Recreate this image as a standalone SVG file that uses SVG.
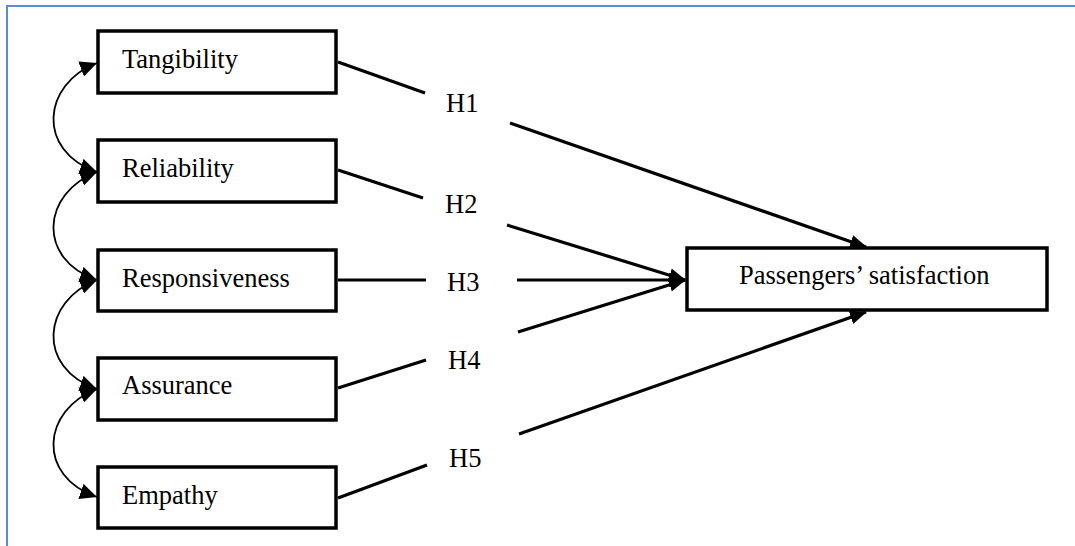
<svg xmlns="http://www.w3.org/2000/svg" width="1075" height="546" viewBox="0 0 1075 546">
<style>
.box{fill:#fff;stroke:#000;stroke-width:3.5}
.lbl{font-family:'Liberation Serif',serif;font-size:26.5px;fill:#000}
.ln{stroke:#000;stroke-width:3.2;fill:none}
.cv{stroke:#000;stroke-width:1.8;fill:none}
</style>
<defs>
<marker id="ah" markerUnits="userSpaceOnUse" markerWidth="18" markerHeight="14" refX="16" refY="7" orient="auto">
<path d="M0,0 L17,7 L0,14 Z" fill="#000"/>
</marker>
<marker id="ch" markerUnits="userSpaceOnUse" markerWidth="18" markerHeight="16" refX="17" refY="8" orient="auto-start-reverse">
<path d="M0,0 L17,8 L0,16 Z" fill="#000"/>
</marker>
</defs>
<rect width="1075" height="546" fill="#fff"/>
<rect x="7" y="6" width="1100" height="600" fill="none" stroke="#5a8ed0" stroke-width="2"/>

<g id="connectors">
<line class="ln" x1="338" y1="62" x2="425" y2="93"/>
<line class="ln" x1="510" y1="123" x2="866" y2="247" marker-end="url(#ah)"/>
<line class="ln" x1="338" y1="170" x2="423" y2="198"/>
<line class="ln" x1="507" y1="225" x2="685" y2="280" marker-end="url(#ah)"/>
<line class="ln" x1="338" y1="280" x2="426" y2="280"/>
<line class="ln" x1="517" y1="280" x2="685" y2="280" marker-end="url(#ah)"/>
<line class="ln" x1="338" y1="388" x2="426" y2="360"/>
<line class="ln" x1="518" y1="332" x2="685" y2="280" marker-end="url(#ah)"/>
<line class="ln" x1="338" y1="498" x2="427" y2="465"/>
<line class="ln" x1="519" y1="434" x2="866" y2="312" marker-end="url(#ah)"/>
<path class="cv" d="M97,63 C42,84 36,151 97,172" marker-start="url(#ch)" marker-end="url(#ch)"/>
<path class="cv" d="M97,172 C42,193 36,259 97,280" marker-start="url(#ch)" marker-end="url(#ch)"/>
<path class="cv" d="M97,280 C42,301 36,368 97,389" marker-start="url(#ch)" marker-end="url(#ch)"/>
<path class="cv" d="M97,389 C42,410 36,476 97,497" marker-start="url(#ch)" marker-end="url(#ch)"/>
<text class="lbl" x="446" y="112">H1</text>
<text class="lbl" x="445" y="213">H2</text>
<text class="lbl" x="447" y="291">H3</text>
<text class="lbl" x="448" y="369">H4</text>
<text class="lbl" x="449" y="467">H5</text>
</g>

<g id="tangibility"><rect class="box" x="98" y="31" width="238" height="62"/><text class="lbl" x="122" y="68">Tangibility</text></g>
<g id="reliability"><rect class="box" x="98" y="140" width="238" height="62"/><text class="lbl" x="122" y="177">Reliability</text></g>
<g id="responsiveness"><rect class="box" x="98" y="250" width="238" height="61"/><text class="lbl" x="122" y="287">Responsiveness</text></g>
<g id="assurance"><rect class="box" x="98" y="358" width="238" height="62"/><text class="lbl" x="122" y="394">Assurance</text></g>
<g id="empathy"><rect class="box" x="98" y="467" width="238" height="61"/><text class="lbl" x="122" y="504">Empathy</text></g>
<g id="satisfaction"><rect class="box" x="687" y="248" width="360" height="62"/><text class="lbl" x="739" y="284">Passengers’ satisfaction</text></g>
</svg>
